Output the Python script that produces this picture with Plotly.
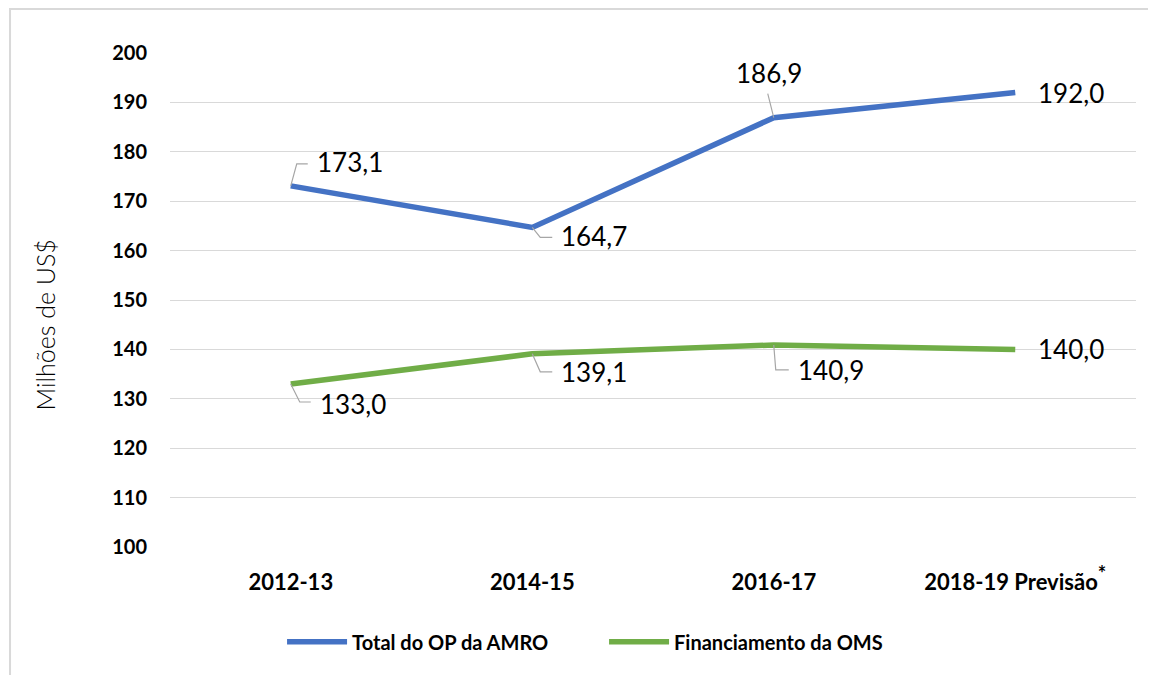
import plotly.graph_objects as go

categories = ["2012-13", "2014-15", "2016-17",
              "2018-19 Previsão<sup><span style='font-size:20px'>*</span></sup>"]
total_amro = [173.1, 164.7, 186.9, 192.0]
financ_oms = [133.0, 139.1, 140.9, 140.0]
series_names = ["Total do OP da AMRO", "Financiamento da OMS"]
y_ticks = [100, 110, 120, 130, 140, 150, 160, 170, 180, 190, 200]
y_title = "Milhões de US$"

# label placement (pixel offsets from the point): text dx, dy, anchor, leader path points
blue_lbl = [
    (24, 24, "left", [(0, 0), (6, 22), (17, 22)]),
    (27, -9, "left", [(0, 0), (8, -10), (20, -10)]),
    (-5, 45, "center", [(0, 0), (-6, 24)]),
    (21, 0, "left", None),
]
green_lbl = [
    (27, -20, "left", [(0, 0), (9, -18), (20, -18)]),
    (27, -18, "left", [(0, 0), (8, -18), (20, -18)]),
    (22, -25, "left", [(0, 0), (2, -25), (15, -25)]),
    (21, 0, "left", None),
]

BLUE = "#4472C4"
GREEN = "#70AD47"
FONT = "Lato"

xs = list(range(len(categories)))
fig = go.Figure()
fig.add_trace(go.Scatter(x=xs, y=total_amro, mode="lines", name=series_names[0],
                         line=dict(color=BLUE, width=5.5), hoverinfo="skip"))
fig.add_trace(go.Scatter(x=xs, y=financ_oms, mode="lines", name=series_names[1],
                         line=dict(color=GREEN, width=5.5), hoverinfo="skip"))

def fmt(v):
    return f"{v:.1f}".replace(".", ",")

annotations = []
shapes = []
for vals, lbls in ((total_amro, blue_lbl), (financ_oms, green_lbl)):
    for i, (v, (dx, dy, anc, path)) in enumerate(zip(vals, lbls)):
        annotations.append(dict(x=i, y=v, xref="x", yref="y", text=fmt(v), showarrow=False,
                                xanchor=anc, yanchor="middle", xshift=dx, yshift=dy,
                                font=dict(family=FONT, size=26, color="#000000")))
        if path:
            p = "M " + " L ".join(f"{px},{py}" for px, py in path)
            shapes.append(dict(type="path", xref="x", yref="y", xsizemode="pixel",
                               ysizemode="pixel", xanchor=i, yanchor=v, path=p,
                               line=dict(color="#a6a6a6", width=1.2)))

# y-axis title
annotations.append(dict(x=-0.129, y=0.449, xref="paper", yref="paper", text=y_title,
                        showarrow=False, textangle=-90, xanchor="center", yanchor="middle",
                        font=dict(family=FONT, size=25, color="#000000", weight=300)))

# outer frame (top and left edges visible)
shapes.append(dict(type="path", xref="paper", yref="paper",
                   path="M -0.1656,-0.3 L -0.1656,1.0891 L 1.1,1.0891",
                   line=dict(color="#d9d9d9", width=2), layer="below"))

fig.update_layout(
    width=1148, height=667,
    margin=dict(l=162, r=20, t=45, b=128),
    paper_bgcolor="white", plot_bgcolor="white",
    font=dict(family=FONT, color="#000000"),
    showlegend=True,
    legend=dict(orientation="h", x=0.116, xanchor="left", y=-0.192, yanchor="middle",
                font=dict(family=FONT, size=20, color="#000000", weight="bold"),
                itemwidth=60, traceorder="normal", entrywidth=247, entrywidthmode="pixels",
                tracegroupgap=0),
    xaxis=dict(range=[-0.5, 3.5], tickvals=xs, ticktext=categories, showgrid=False,
               zeroline=False, showline=False, ticks="",
               tickfont=dict(family=FONT, size=22, color="#000000", weight="bold"),
               ticklabelstandoff=20),
    yaxis=dict(range=[100, 200], tickvals=y_ticks, showgrid=True, gridcolor="#d9d9d9",
               gridwidth=1.3, zeroline=False, showline=False, ticks="",
               tickfont=dict(family=FONT, size=20, color="#000000", weight="bold"),
               ticklabelstandoff=22),
    annotations=annotations,
    shapes=shapes,
)

fig.write_html("out.html")
